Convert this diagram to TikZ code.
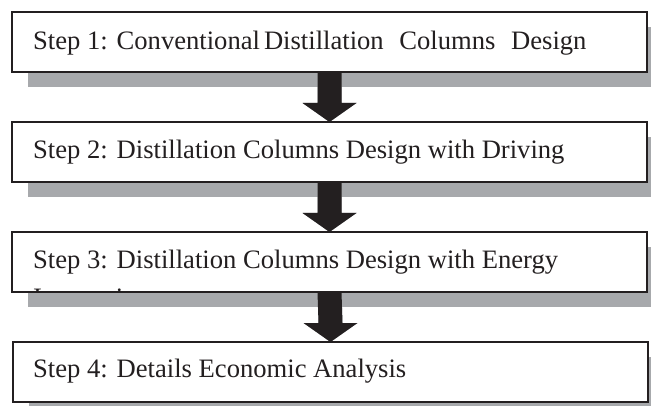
\documentclass[tikz,border=0pt]{standalone}
\usepackage{fontspec}
\setmainfont{Liberation Serif}
\usetikzlibrary{calc}
\definecolor{ink}{RGB}{35,31,32}
\definecolor{shadowgray}{RGB}{167,169,172}
\pgfdeclarelayer{bg}
\pgfdeclarelayer{fg}
\pgfsetlayers{bg,main,fg}
\newcommand\stepflowarrow[3]{% #1 style, #2 from node, #3 to node
  \fill[#1] ($(#2.south)+(-12,0)$) -- ($(#3.north)+(-12,-19)$) -- ($(#3.north)+(-27,-19)$)
    -- (#3.north) -- ($(#3.north)+(27,-19)$) -- ($(#3.north)+(12,-19)$)
    -- ($(#2.south)+(12,0)$) -- cycle;}
\begin{document}
\begin{tikzpicture}[x=1pt,y=-1pt,
  stepbox/.style={fill=white, draw=none, minimum width=635pt, minimum height=60pt,
    anchor=north west, inner sep=0pt, outer sep=0pt},
  border/.style={draw=ink, line width=2pt},
  boxshadow/.style={fill=shadowgray},
  steptext/.style={anchor=base west, inner sep=0pt, font=\fontsize{26.6}{32}\selectfont, text=ink},
  arrowink/.style={fill=ink},
  arrowshade/.style={fill=shadowgray}]
\useasboundingbox (0,0) rectangle (651,406);
% boxes (fills)
\node[stepbox] (b1) at (12,12) {};
\node[stepbox] (b2) at (12,122) {};
\node[stepbox] (b3) at (12,232) {};
\node[stepbox] (b4) at (13,342) {};
% box shadows
\begin{pgfonlayer}{bg}
  \foreach \b in {b1,b2,b3,b4}
    \fill[boxshadow] ([shift={(16,15)}]\b.north west) rectangle ([shift={(16,15)}]\b.south east);
\end{pgfonlayer}
% arrow shadows
\begin{scope}[shift={(14,13)}]
  \stepflowarrow{arrowshade}{b1}{b2}
  \stepflowarrow{arrowshade}{b2}{b3}
  \stepflowarrow{arrowshade}{b3}{b4}
\end{scope}
% borders, arrows, texts
\begin{pgfonlayer}{fg}
  \foreach \b in {b1,b2,b3,b4}
    \draw[border] (\b.north west) rectangle (\b.south east);
  \stepflowarrow{arrowink}{b1}{b2}
  \stepflowarrow{arrowink}{b2}{b3}
  \stepflowarrow{arrowink}{b3}{b4}
\end{pgfonlayer}
\node[steptext] (t1) at (33,50) {Step 1: Conventional\hspace{4pt}Distillation\hspace{9pt} Columns\hspace{9pt} Design};
\node[steptext] (t2) at (33,159) {Step 2: Distillation Columns Design with Driving};
\node[steptext] (t3) at (33,269) {Step 3: Distillation Columns Design with Energy};
\begin{scope}
  \clip (b3.north west) rectangle (b3.south east);
  \node[steptext] (t3b) at (33,306) {Integration};
\end{scope}
\node[steptext] (t4) at (33,377) {Step 4: Details Economic Analysis};
\end{tikzpicture}
\end{document}
